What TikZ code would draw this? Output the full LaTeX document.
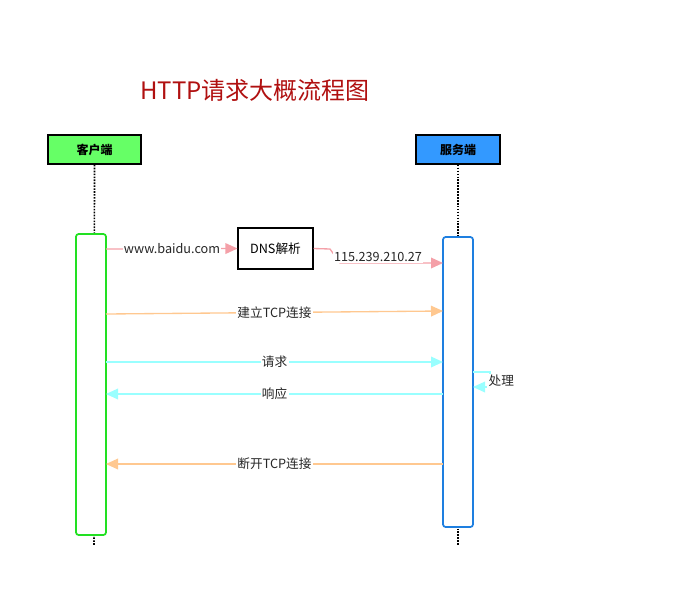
\documentclass[tikz,border=0pt]{standalone}
\usepackage{fontspec}
\setmainfont{Noto Sans CJK SC}
\usetikzlibrary{arrows.meta}
\definecolor{tred}{HTML}{B01010}
\definecolor{cgreen}{HTML}{66FF66}
\definecolor{sblue}{HTML}{3399FF}
\definecolor{agreen}{HTML}{22E022}
\definecolor{ablue}{HTML}{1E7FE0}
\definecolor{pinkc}{HTML}{F4A0A8}
\definecolor{orangec}{HTML}{FFC890}
\definecolor{cyanc}{HTML}{99FFFF}
\tikzset{
  actor/.style={draw=black,line width=1.2pt,font=\bfseries\fontsize{9}{10}\selectfont,inner sep=0},
  life/.style={densely dotted,line width=1.2pt},
  act/.style={rounded corners=2pt,line width=1.3pt,fill=white},
  msg/.style={line width=1pt,-{Triangle[length=9pt,width=8pt]}},
  lbl/.style={fill=white,font=\fontsize{9.5}{11}\selectfont,inner sep=1pt,text=black!85}
}
\begin{document}
\begin{tikzpicture}[x=0.75pt,y=-0.75pt]
\useasboundingbox (0,0) rectangle (695,611);
\node[text=tred,font=\fontsize{18}{20}\selectfont] (title) at (255,90) {HTTP请求大概流程图};
\node[actor,fill=cgreen,minimum width=93*0.75pt,minimum height=29*0.75pt] (cl) at (94.5,149.5) {客户端};
\node[actor,fill=sblue,minimum width=84*0.75pt,minimum height=29*0.75pt] (sv) at (458,149.5) {服务端};
\coordinate (cend) at (94,546);
\coordinate (send) at (458,546);
\draw[life] (cl.south) -- (cend);
\draw[life] (sv.south) -- (send);
\draw[act,draw=agreen] (76,234) rectangle (106,535);
\draw[act,draw=ablue] (443,237) rectangle (473,527);
\node[draw=black,line width=0.8pt,minimum width=75*0.75pt,minimum height=41*0.75pt,font=\fontsize{9.5}{11}\selectfont,inner sep=0] (dns) at (275.5,248.5) {DNS解析};
\coordinate (c1) at (106,249);
\draw[msg,pinkc] (c1) -- (dns.west);
\node[lbl] (l1) at (172,249) {www.baidu.com};
\coordinate (s1) at (443,263);
\draw[msg,pinkc] (dns.east) -- (330,249) -- (340,263) -- (s1);
\node[lbl] (l2) at (378,257) {115.239.210.27};
\coordinate (c2) at (106,314); \coordinate (s2) at (443,311);
\draw[msg,orangec] (c2) -- (s2) node[lbl,midway] {建立TCP连接};
\coordinate (c3) at (106,362); \coordinate (s3) at (443,362);
\draw[msg,cyanc] (c3) -- (s3) node[lbl,midway] {请求};
\coordinate (s4) at (473,372); \coordinate (s5) at (473,387);
\draw[msg,cyanc] (s4) -- (490,372) -- (490,387) -- (s5);
\node[lbl,anchor=west] (l3) at (487,381) {处理};
\coordinate (c6) at (106,394); \coordinate (s6) at (443,394);
\draw[msg,cyanc] (s6) -- (c6) node[lbl,midway] {响应};
\coordinate (c7) at (106,464); \coordinate (s7) at (443,464);
\draw[msg,orangec] (s7) -- (c7) node[lbl,midway] {断开TCP连接};
\end{tikzpicture}
\end{document}
